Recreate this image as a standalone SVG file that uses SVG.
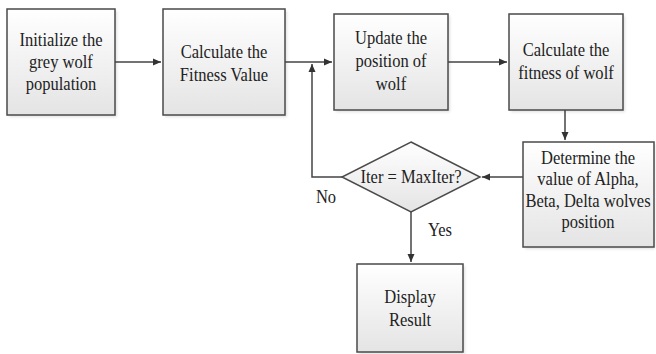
<svg xmlns="http://www.w3.org/2000/svg" width="656" height="354" viewBox="0 0 656 354">
  <style>
    .box { fill: url(#boxFill); stroke: #4a4a4a; stroke-width: 1.5; }
    .shadow { fill: #000; opacity: 0.12; filter: url(#soft); }
    .lbl { font-family: "Liberation Serif", "Times New Roman", serif; font-size: 19px; fill: #222; text-anchor: middle;
           transform-box: fill-box; transform-origin: center; transform: scaleX(0.87); }
    .wire { fill: none; stroke: #444; stroke-width: 1.5; }
  </style>
  <defs>
    <linearGradient id="boxFill" x1="0" y1="0" x2="0" y2="1">
      <stop offset="0" stop-color="#ffffff"/>
      <stop offset="1" stop-color="#e4e4e4"/>
    </linearGradient>
    <filter id="soft" x="-10%" y="-10%" width="130%" height="130%">
      <feGaussianBlur stdDeviation="1.5"/>
    </filter>
    <marker id="arrow" markerWidth="10" markerHeight="10" refX="9" refY="5" orient="auto" markerUnits="userSpaceOnUse">
      <path d="M1,1.5 L9,5 L1,8.5 Z" fill="#333"/>
    </marker>
  </defs>
  <rect width="656" height="354" fill="#ffffff"/>

  <!-- connectors -->
  <g id="connectors">
    <path class="wire" d="M115,62 H161" marker-end="url(#arrow)"/>
    <path class="wire" d="M285,62 H332" marker-end="url(#arrow)"/>
    <path class="wire" d="M448,62 H507" marker-end="url(#arrow)"/>
    <path class="wire" d="M565,110 V140" marker-end="url(#arrow)"/>
    <path class="wire" d="M523,177 H482" marker-end="url(#arrow)"/>
    <path class="wire" d="M342,177 H312 V64" marker-end="url(#arrow)"/>
    <path class="wire" d="M411,212 V262" marker-end="url(#arrow)"/>
    <text class="lbl" x="326" y="203">No</text>
    <text class="lbl" x="440" y="236">Yes</text>
  </g>

  <g id="init">
    <rect class="shadow" x="9" y="11" width="108" height="106"/>
    <rect class="box" x="7" y="9" width="108" height="106"/>
    <text class="lbl" x="61" y="46">Initialize the</text>
    <text class="lbl" x="61" y="68">grey wolf</text>
    <text class="lbl" x="61" y="90">population</text>
  </g>

  <g id="fitness">
    <rect class="shadow" x="165" y="11" width="122" height="106"/>
    <rect class="box" x="163" y="9" width="122" height="106"/>
    <text class="lbl" x="224" y="58">Calculate the</text>
    <text class="lbl" x="224" y="81">Fitness Value</text>
  </g>

  <g id="update">
    <rect class="shadow" x="336" y="16" width="114" height="96"/>
    <rect class="box" x="334" y="14" width="114" height="96"/>
    <text class="lbl" x="391" y="44">Update the</text>
    <text class="lbl" x="391" y="67">position of</text>
    <text class="lbl" x="391" y="90">wolf</text>
  </g>

  <g id="wolfFitness">
    <rect class="shadow" x="511" y="16" width="114" height="96"/>
    <rect class="box" x="509" y="14" width="114" height="96"/>
    <text class="lbl" x="566" y="56">Calculate the</text>
    <text class="lbl" x="566" y="79">fitness of wolf</text>
  </g>

  <g id="determine">
    <rect class="shadow" x="525" y="144" width="130" height="105"/>
    <rect class="box" x="523" y="142" width="131" height="105"/>
    <text class="lbl" x="588" y="164">Determine the</text>
    <text class="lbl" x="588" y="185">value of Alpha,</text>
    <text class="lbl" x="588" y="207">Beta, Delta wolves</text>
    <text class="lbl" x="588" y="228">position</text>
  </g>

  <g id="check">
    <path class="box" d="M411,142 L480,177 L411,212 L342,177 Z"/>
    <text class="lbl" x="411" y="183">Iter = MaxIter?</text>
  </g>

  <g id="result">
    <rect class="shadow" x="359" y="266" width="106" height="88"/>
    <rect class="box" x="357" y="264" width="106" height="88"/>
    <text class="lbl" x="410" y="303">Display</text>
    <text class="lbl" x="410" y="326">Result</text>
  </g>
</svg>
